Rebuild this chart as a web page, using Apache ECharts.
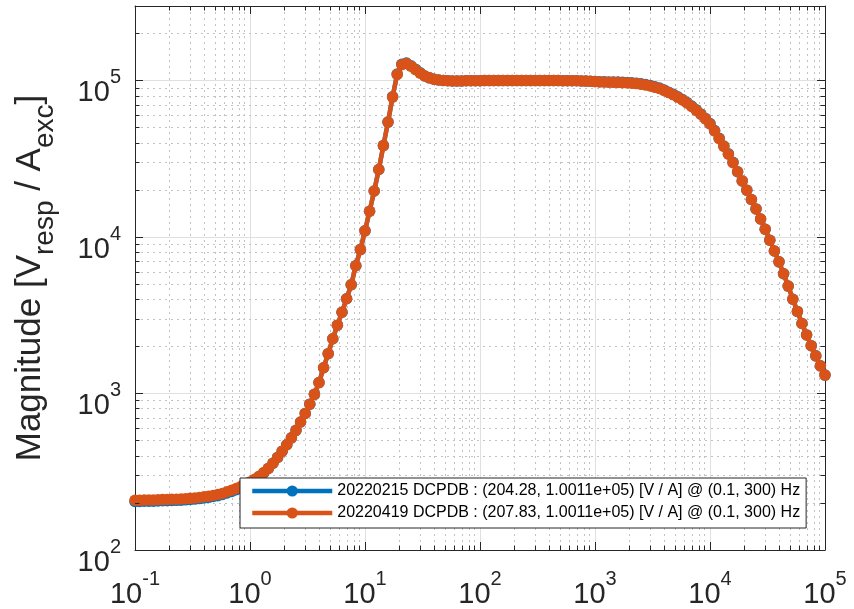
<!DOCTYPE html>
<html>
<head>
<meta charset="utf-8">
<script src="https://cdn.jsdelivr.net/npm/echarts@6/dist/echarts.min.js"></script>
<style>html,body{margin:0;padding:0;background:#fff}#c{width:854px;height:609px}</style>
</head>
<body>
<div id="c"></div>
<script>
// Frequency points [Hz]
const freqHz = [
  0.1, 0.1096, 0.1202, 0.1318, 0.1445, 0.1585, 0.1738, 0.1905, 0.2089, 0.2291, 0.2512, 0.2754, 0.302, 0.3311, 0.3631, 0.3981, 0.4365, 0.4786, 0.5248, 0.5754, 0.631, 0.6918, 0.7586, 0.8318, 0.912,
  1, 1.096, 1.202, 1.318, 1.445, 1.585, 1.738, 1.905, 2.089, 2.291, 2.512, 2.754, 3.02, 3.311, 3.631, 3.981, 4.365, 4.786, 5.248, 5.754, 6.31, 6.918, 7.586, 8.318, 9.12,
  10, 10.96, 12.02, 13.18, 14.45, 15.85, 17.38, 19.05, 20.89, 22.91, 25.12, 27.54, 30.2, 33.11, 36.31, 39.81, 43.65, 47.86, 52.48, 57.54, 63.1, 69.18, 75.86, 83.18, 91.2,
  100, 109.6, 120.2, 131.8, 144.5, 158.5, 173.8, 190.5, 208.9, 229.1, 251.2, 275.4, 302, 331.1, 363.1, 398.1, 436.5, 478.6, 524.8, 575.4, 631, 691.8, 758.6, 831.8, 912,
  1000, 1096, 1202, 1318, 1445, 1585, 1738, 1905, 2089, 2291, 2512, 2754, 3020, 3311, 3631, 3981, 4365, 4786, 5248, 5754, 6310, 6918, 7586, 8318, 9120,
  10000, 10965, 12023, 13183, 14454, 15849, 17378, 19055, 20893, 22909, 25119, 27542, 30200, 33113, 36308, 39811, 43652, 47863, 52481, 57544, 63096, 69183, 75858, 83176, 91201,
  100000
];

// 20220215 DCPDB magnitude [V/A]
const mag20220215 = [
  204.3, 204.5, 204.9, 205.1, 205.3, 205.8, 206.3, 206.8, 207.3, 207.7, 208.2, 209.2, 210.2, 211.6, 213.1, 215.1, 217.0, 219.6, 222.6, 226.2, 231.5, 236.9, 243.0, 250.9, 259.6,
  269.3, 280.6, 294.4, 311.0, 331.7, 358.5, 390.8, 428.5, 471.0, 521.2, 582.1, 657.7, 746.4, 855.1, 988.5, 1175, 1462, 1799, 2239, 2735, 3311, 4036, 4955, 6561, 8318,
  10965, 14622, 19724, 27040, 38459, 54325, 78995, 110308, 127233, 129598, 124337, 118195, 112356, 107152, 104232, 102094, 100925, 100230, 99770, 99540, 99540, 99540, 99770, 99770, 100000,
  100000, 100050, 100080, 100100, 100100, 100110, 100110, 100110, 100110, 100110, 100110, 100110, 100110, 100110, 100100, 100100, 100080, 100050, 100000, 100000, 100000, 99770, 99540, 99312, 99083,
  98727, 98371, 98243, 98115, 97987, 97859, 97633, 97409, 96961, 96293, 95411, 94319, 93025, 91327, 89660, 87216, 84450, 81771, 78813, 75788, 72377, 68801, 65102, 61320, 57358,
  53162, 47929, 42815, 38247, 34087, 30103, 26182, 22856, 19953, 17378, 15136, 13062, 11220, 9550, 8147, 6950, 5834, 4864, 4009, 3350, 2805, 2371, 2023, 1742, 1503, 1312
];

// 20220419 DCPDB magnitude [V/A]
const mag20220419 = [
  207.8, 208.0, 208.4, 208.6, 208.9, 209.4, 209.9, 210.4, 210.9, 211.3, 211.8, 212.8, 213.8, 215.3, 216.8, 218.8, 220.8, 223.4, 226.5, 230.1, 235.5, 241.0, 247.2, 254.7, 263.0,
  272.3, 283.1, 296.5, 312.6, 332.7, 358.9, 390.8, 428.5, 471.0, 521.2, 582.1, 657.7, 746.4, 855.1, 988.5, 1175, 1462, 1799, 2239, 2735, 3311, 4036, 4955, 6561, 8318,
  10965, 14622, 19724, 27040, 38459, 54325, 78524, 109650, 126474, 128825, 123595, 117490, 111686, 107152, 104232, 102094, 100925, 100230, 99770, 99540, 99540, 99540, 99770, 99770, 100000,
  100000, 100050, 100080, 100100, 100100, 100110, 100110, 100110, 100110, 100110, 100110, 100110, 100110, 100110, 100100, 100100, 100080, 100050, 100000, 100000, 100000, 99770, 99540, 99312, 99083,
  98628, 98175, 97949, 97724, 97499, 97275, 97051, 96828, 96383, 95719, 94842, 93756, 92470, 90782, 89125, 86696, 83946, 81283, 78343, 75336, 71945, 68391, 64714, 60954, 57016,
  52845, 47643, 42560, 38019, 33884, 29923, 26182, 22856, 19953, 17378, 15136, 13062, 11220, 9550, 8147, 6950, 5834, 4864, 4009, 3350, 2805, 2371, 2023, 1742, 1503, 1312
];

const seriesNames = [
  '20220215 DCPDB : (204.28, 1.0011e+05) [V / A] @ (0.1, 300) Hz',
  '20220419 DCPDB : (207.83, 1.0011e+05) [V / A] @ (0.1, 300) Hz'
];
const yAxisTitle = '{n|Magnitude [V}{sub|resp}{n| / A}{sub|exc}{n|]}';
const xRange = [0.1, 100000];
const yRange = [100, 300000];
// y minor grid/tick values (2..9 per decade, up to the top of the axis)
const yMinorValues = [
  200, 300, 400, 500, 600, 700, 800, 900,
  2000, 3000, 4000, 5000, 6000, 7000, 8000, 9000,
  20000, 30000, 40000, 50000, 60000, 70000, 80000, 90000,
  200000
];

const axisColor = '#262626';
const fontFamily = "'Liberation Sans', Arial, Helvetica, sans-serif";
const GRID = { left: 135, right: 29, top: 6, bottom: 59 };
const plotWidthPx = 854 - GRID.left - GRID.right;
const minorTickPx = 4.5;
// factor along the log x axis that corresponds to the minor tick length in pixels
const tickFactor = Math.pow(xRange[1] / xRange[0], minorTickPx / plotWidthPx);

function powLabel(v) {
  const e = Math.log10(v);
  const r = Math.round(e);
  if (Math.abs(e - r) > 1e-6) return '';
  return '{b|10}{s|' + (r < 0 ? '-' : '') + Math.abs(r) + '}';
}
const labelRich = {
  b: { fontSize: 29, fontFamily: fontFamily, color: axisColor, lineHeight: 40, verticalAlign: 'bottom' },
  s: { fontSize: 20, fontFamily: fontFamily, color: axisColor, lineHeight: 16, verticalAlign: 'top' }
};

function makeAxis(range, pos, withLabels, withMinor) {
  return {
    type: 'log', logBase: 10, min: range[0], max: range[1], position: pos,
    axisLine: { show: true, onZero: false, lineStyle: { color: axisColor, width: 1 } },
    axisTick: { show: true, inside: true, length: 8, lineStyle: { color: axisColor, width: 1 } },
    minorTick: { show: withMinor, splitNumber: 9, length: minorTickPx, lineStyle: { color: axisColor, width: 1 } },
    axisLabel: withLabels ? { show: true, formatter: powLabel, rich: labelRich } : { show: false },
    splitLine: { show: withLabels, lineStyle: { color: '#e0e0e0', width: 1 } },
    minorSplitLine: { show: withLabels && withMinor, lineStyle: { color: '#c2c2c2', width: 1, type: [2, 4] } }
  };
}

const xBottom = makeAxis(xRange, 'bottom', true, true);
xBottom.axisLabel.margin = 19;
const xTop = makeAxis(xRange, 'top', false, true);
const yLeft = makeAxis(yRange, 'left', true, false);
yLeft.axisLabel.margin = 14;
yLeft.axisLabel.padding = [14, 0, 0, 0];
yLeft.name = yAxisTitle;
yLeft.nameLocation = 'middle';
yLeft.nameRotate = 90;
yLeft.nameGap = 76;
yLeft.nameTextStyle = {
  rich: {
    n: { fontSize: 35, fontFamily: fontFamily, color: axisColor, lineHeight: 46, verticalAlign: 'top' },
    sub: { fontSize: 28, fontFamily: fontFamily, color: axisColor, lineHeight: 28, verticalAlign: 'bottom' }
  }
};
const yRight = makeAxis(yRange, 'right', false, false);

function pts(mags) { return freqHz.map((f, i) => [f, mags[i]]); }

function lineSeries(name, mags, color, z) {
  return {
    name: name, type: 'line', xAxisIndex: 0, yAxisIndex: 0,
    data: pts(mags), symbol: 'circle', symbolSize: 11.5, showAllSymbol: true,
    lineStyle: { color: color, width: 4.5 }, itemStyle: { color: color },
    emphasis: { disabled: true }, z: z, animation: false, clip: true
  };
}

// y minor dotted grid lines (drawn through the axes' own scales)
const yMinorGrid = {
  name: 'yMinorGrid', type: 'lines', coordinateSystem: 'cartesian2d', xAxisIndex: 0, yAxisIndex: 0,
  polyline: false, silent: true, z: 1, animation: false,
  lineStyle: { color: '#c2c2c2', width: 1, type: [2, 4], opacity: 1, curveness: 0 },
  data: yMinorValues.map(v => ({ coords: [[xRange[0], v], [xRange[1], v]] }))
};
// y minor ticks on the left and right frame edges
const yMinorTicks = {
  name: 'yMinorTicks', type: 'lines', coordinateSystem: 'cartesian2d', xAxisIndex: 0, yAxisIndex: 0,
  polyline: false, silent: true, z: 5, animation: false,
  lineStyle: { color: axisColor, width: 1, type: 'solid', opacity: 1, curveness: 0 },
  data: yMinorValues.flatMap(v => [
    { coords: [[xRange[0], v], [xRange[0] * tickFactor, v]] },
    { coords: [[xRange[1] / tickFactor, v], [xRange[1], v]] }
  ])
};

const chart = echarts.init(document.getElementById('c'), null, { renderer: 'canvas' });
chart.setOption({
  backgroundColor: '#ffffff',
  animation: false,
  grid: { left: GRID.left, right: GRID.right, top: GRID.top, bottom: GRID.bottom, containLabel: false },
  xAxis: [xBottom, xTop],
  yAxis: [yLeft, yRight],
  legend: {
    data: seriesNames, orient: 'vertical', left: 240, top: 478,
    itemWidth: 80, itemHeight: 14, itemGap: 6,
    padding: [5, 6, 7, 10],
    backgroundColor: '#ffffff', borderColor: axisColor, borderWidth: 1, borderRadius: 0,
    lineStyle: { width: 4.5 },
    textStyle: { fontSize: 16, fontFamily: fontFamily, color: '#000000' },
    selectedMode: false, z: 10
  },
  series: [
    yMinorGrid,
    yMinorTicks,
    lineSeries(seriesNames[0], mag20220215, '#0072BD', 3),
    lineSeries(seriesNames[1], mag20220419, '#D95319', 4)
  ]
});
</script>
</body>
</html>
